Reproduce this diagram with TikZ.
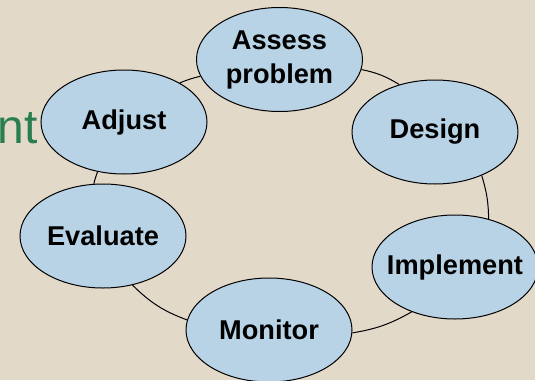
\documentclass[tikz,border=0pt]{standalone}
\usepackage{fontspec}
\setmainfont{Liberation Sans}
\usepackage{tikz}
\usetikzlibrary{shapes.geometric}

\definecolor{paper}{RGB}{226,217,201}
\definecolor{stageblue}{RGB}{185,211,230}
\definecolor{titlegreen}{RGB}{42,125,80}

\begin{document}
\begin{tikzpicture}[
    x=0.5pt, y=-0.5pt,
    stage/.style={ellipse, draw=black, line width=0.5pt, fill=stageblue,
        minimum width=83pt, minimum height=52pt, inner xsep=-6pt, inner ysep=0pt,
        text centered, align=center, text=black,
        font=\fontsize{13.6}{17}\selectfont\bfseries},
    link/.style={draw=black, line width=0.5pt}
    ]
    \useasboundingbox (0,0) rectangle (535,380);
    \fill[paper] (0,0) rectangle (535,380);
    \node (Title) [anchor=base east, text=titlegreen, inner sep=0pt,
        font=\fontsize{24}{28}\selectfont] at (38,143) {nt};
    \node (Assess) [stage] at (279.5,59.5) {Assess\\problem};
    \node (Design) [stage] at (435,132) {Design};
    \node (Implement) [stage] at (455,267) {Implement};
    \node (Monitor) [stage] at (269,330) {Monitor};
    \node (Evaluate) [stage] at (103,236) {Evaluate};
    \node (Adjust) [stage] at (124,122) {Adjust};
    % the cycle
    \draw[link] (Assess.-7) to[bend left=10] (Design.127);
    \draw[link] (Design.-43) to[bend left=8] (Implement.55);
    \draw[link] (Implement.226) to[bend left=10] (Monitor.-2);
    \draw[link] (Monitor.173) to[bend left=12] (Evaluate.-59);
    \draw[link] (Evaluate.100) to[bend left=3] (Adjust.242);
    \draw[link] (Adjust.35) to[bend left=5] (Assess.192);
\end{tikzpicture}
\end{document}
